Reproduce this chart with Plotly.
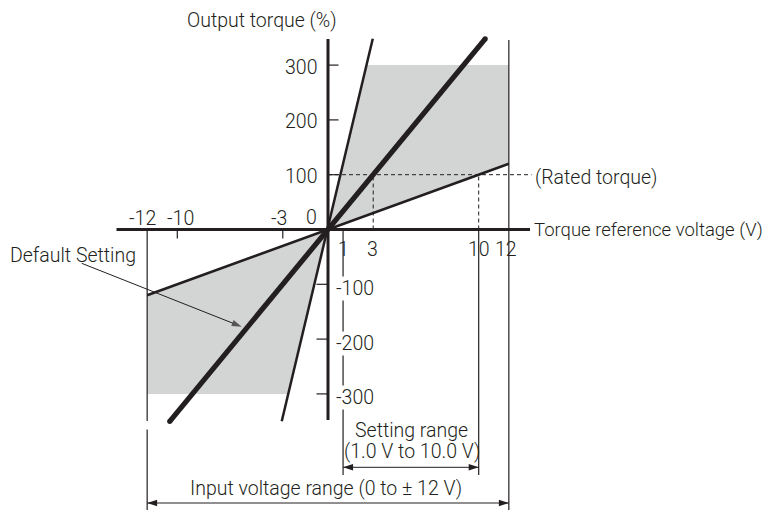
import plotly.graph_objects as go

# ---------------- data ----------------
x_ticks_left = [-12, -10, -3]          # voltage ticks shown above the axis
x_ticks_right = [1, 3, 10, 12]         # voltage ticks shown below the axis
y_ticks_top = [100, 200, 300]          # torque ticks (left of axis)
y_ticks_bottom = [-100, -200, -300]    # torque ticks (right of axis)

# characteristic lines: voltage (V) -> output torque (%)
steep_v = [-3.07, 2.97]
steep_t = [-350, 348]
default_v = [-10.5, 10.43]
default_t = [-350, 348]
shallow_v = [-12, 12]
shallow_t = [-120, 120]

rated_torque = 100
max_torque = 300
input_range = [-12, 12]
setting_range = [1, 10]
rated_points_v = [3, 10]               # dashed drops where lines reach rated torque

x_title = "Torque reference voltage (V)"
y_title = "Output torque (%)"
rated_label = "(Rated torque)"
default_label = "Default Setting"
setting_label_1 = "Setting range"
setting_label_2 = "(1.0 V to 10.0 V)"
input_label = "Input voltage range (0 to \u00b1 12 V)"

# ---------------- styling / geometry ----------------
PAGE = 8                   # default body margin of the html page
W, H = 775 - PAGE, 510 - PAGE
OX, OY = 328.0 - PAGE, 229.5 - PAGE   # pixel location of the origin inside the figure
PX_V = 15.07               # pixels per volt
PX_T = 0.548               # pixels per percent
INK = "#231f20"
GRAY = "#d3d4d4"
FONT = dict(family="Roboto, Liberation Sans, Arial, sans-serif", size=19.5, color=INK, weight=300)
FONT_XT = dict(FONT, size=18.5)


def dv(px):  # pixel length -> volts
    return px / PX_V


def dt(px):  # pixel length -> percent
    return px / PX_T


def vx(page_px):  # page pixel x -> volts
    return (page_px - PAGE - OX) / PX_V


def ty(page_px):  # page pixel y -> percent
    return (OY - (page_px - PAGE)) / PX_T


x_range = [-OX / PX_V, (W - OX) / PX_V]
y_range = [-(H - OY) / PX_T, OY / PX_T]

fig = go.Figure()

# shaded operating regions
k_pos = steep_t[1] / steep_v[1]
k_neg = steep_t[0] / steep_v[0]
k_sh = shallow_t[1] / shallow_v[1]
up_v = [0, max_torque / k_pos, input_range[1], input_range[1], 0]
up_t = [0, max_torque, max_torque, k_sh * input_range[1], 0]
lo_v = [0, -max_torque / k_neg, input_range[0], input_range[0], 0]
lo_t = [0, -max_torque, -max_torque, k_sh * input_range[0], 0]
for vv, tt in [(up_v, up_t), (lo_v, lo_t)]:
    fig.add_trace(go.Scatter(x=vv, y=tt, fill="toself", fillcolor=GRAY, mode="lines",
                             line=dict(width=0, color=GRAY), hoverinfo="skip", showlegend=False))

shapes = []


def seg(x0, y0, x1, y1, width=1.0, dash="solid"):
    shapes.append(dict(type="line", xref="x", yref="y", x0=x0, y0=y0, x1=x1, y1=y1,
                       line=dict(color=INK, width=width, dash=dash)))


DASH = "4px,3px"
# dashed rated-torque guides
x_rated_end = vx(531.5)
seg(0, rated_torque, x_rated_end, rated_torque, 1, DASH)
for v in rated_points_v:
    seg(v, 0, v, rated_torque, 1, DASH)

# verticals for ranges
bottom_t = y_range[0]
seg(input_range[1], ty(40), input_range[1], bottom_t, 1.2)
seg(input_range[0], 0, input_range[0], ty(421), 1.2)
seg(input_range[0], ty(429.5), input_range[0], bottom_t, 1.2)
seg(setting_range[0], 0, setting_range[0], ty(475), 1.2)
seg(setting_range[1], 0, setting_range[1], ty(475), 1.2)

# ticks
for t in y_ticks_top:
    seg(0, t, dv(10.5), t, 1.2)
for t in y_ticks_bottom:
    seg(-dv(11.5), t, 0, t, 1.2)
for v in x_ticks_left[1:]:
    seg(v, 0, v, -dt(9), 1.2)

# axes
x_axis_end = vx(530)
seg(vx(116.5), 0, x_axis_end, 0, 3)
y_axis_top = ty(39)
seg(0, ty(420), 0, y_axis_top, 3)

# characteristic lines
fig.add_trace(go.Scatter(x=shallow_v, y=shallow_t, mode="lines", line=dict(color=INK, width=2.5),
                         hoverinfo="skip", showlegend=False))
fig.add_trace(go.Scatter(x=steep_v, y=steep_t, mode="lines", line=dict(color=INK, width=2.5),
                         hoverinfo="skip", showlegend=False))
fig.add_trace(go.Scatter(x=default_v, y=default_t, mode="lines+markers",
                         line=dict(color=INK, width=5.2),
                         marker=dict(color=INK, size=5.2, line=dict(width=0)),
                         hoverinfo="skip", showlegend=False))

# dimension arrows
AR = dict(symbol="arrow", size=10.5, color=INK, line=dict(width=0), angle=[-90, 90])
set_y = ty(467.3)
in_y = ty(503)
fig.add_trace(go.Scatter(x=setting_range, y=[set_y, set_y], mode="lines+markers",
                         line=dict(color=INK, width=1), marker=AR, hoverinfo="skip", showlegend=False))
fig.add_trace(go.Scatter(x=input_range, y=[in_y, in_y], mode="lines+markers",
                         line=dict(color=INK, width=1), marker=AR, hoverinfo="skip", showlegend=False))

# "Default Setting" pointer
ds_v = [vx(81.7), vx(241.7)]
ds_t = [ty(263.3), ty(326.7)]
fig.add_trace(go.Scatter(x=ds_v, y=ds_t, mode="lines+markers", line=dict(color=INK, width=1),
                         marker=dict(symbol="arrow", size=[0, 10.5], color=INK, line=dict(width=0),
                                     angleref="previous"),
                         hoverinfo="skip", showlegend=False))

ann = []


def label(text, x, y, xanchor="center", xshift=0, yshift=0, bg=None, font=FONT):
    d = dict(text=text, x=x, y=y, xref="x", yref="y", xanchor=xanchor, yanchor="middle",
             xshift=xshift, yshift=yshift, showarrow=False, font=font)
    if bg:
        d.update(bgcolor=bg, borderpad=0)
    ann.append(d)


for t in y_ticks_top:
    label(str(t), 0, t, "right", -9, -2)
for t in y_ticks_bottom:
    label(str(t), 0, t, "left", 7, -4, bg="white")
label("0", 0, 0, "right", -9, 12)
left_shift = {-12: -5, -10: 3, -3: -3.5}
for v in x_ticks_left:
    label(str(v), v, 0, "center", left_shift.get(v, 0), 11)
right_shift = {1: 0, 3: -1, 10: 0, 12: -3}
for v in x_ticks_right:
    label(str(v), v, 0, "center", right_shift.get(v, 0), -20)

# y title sits at the very top of the figure
ann.append(dict(text=y_title, x=0, y=1, xref="x", yref="paper", xanchor="center", yanchor="top",
                xshift=-66, yshift=0, borderpad=0, showarrow=False, font=FONT))
label(x_title, x_axis_end, 0, "left", 2, 0, font=FONT_XT)
label(rated_label, x_rated_end, rated_torque, "left", 1, -3)
label(default_label, ds_v[0], ds_t[0], "center", -9, 8)
mid = sum(setting_range) / 2
label(setting_label_1, mid, set_y, "center", 1, 37)
label(setting_label_2, mid, set_y, "center", 1, 15.5)
label(input_label, sum(input_range) / 2, in_y, "center", -2, 15)

fig.update_layout(
    width=W, height=H, autosize=False,
    margin=dict(l=0, r=0, t=0, b=0),
    paper_bgcolor="white", plot_bgcolor="white",
    xaxis=dict(range=x_range, visible=False, fixedrange=True),
    yaxis=dict(range=y_range, visible=False, fixedrange=True),
    shapes=shapes, annotations=ann, showlegend=False,
)

fig.write_html("out.html")
